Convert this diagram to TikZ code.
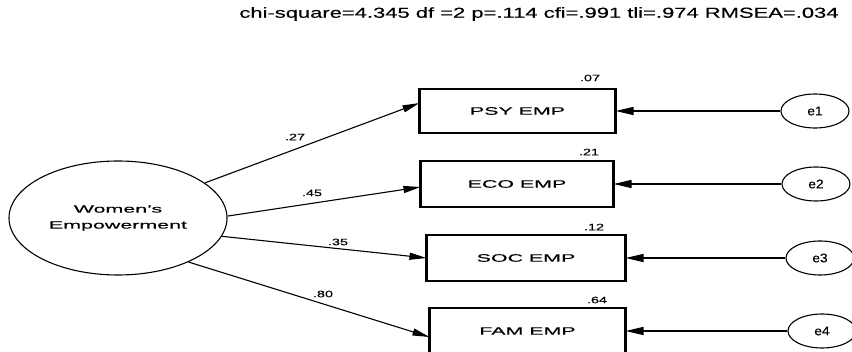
\documentclass[tikz,border=0pt]{standalone}
\usepackage{fontspec}
\usepackage{graphicx}
\setmainfont[FakeBold=0.25]{Liberation Sans}
\usetikzlibrary{arrows.meta,shapes.geometric}
% horizontally widened text
\newcommand\widetxt[2]{\scalebox{#1}[1]{#2}}
\begin{document}
\begin{tikzpicture}[x=1pt,y=-1pt,
  latent/.style={draw, ellipse, line width=1.1pt, minimum width=218pt, minimum height=114pt, inner sep=0pt,
                 font=\fontsize{10.6}{16}\selectfont, align=center},
  obs/.style={draw, rectangle, line width=1.1pt, minimum height=44pt, inner sep=0pt,
              font=\fontsize{10.8}{12}\selectfont},
  err/.style={draw, ellipse, line width=1.1pt, minimum width=68pt, minimum height=34pt, inner sep=0pt,
              font=\fontsize{12.5}{14}\selectfont},
  coef/.style={font=\fontsize{9.3}{11}\selectfont, inner sep=0pt},
  regpath/.style={line width=1.1pt, -{Triangle[length=17pt,width=7pt]}},
  errpath/.style={line width=1.4pt, -{Triangle[length=18pt,width=8pt]}},
  sideedge/.style={line width=2.4pt}
]
\useasboundingbox (0,0) rectangle (852,352);

% fit indices
\node[font=\fontsize{14.5}{16}\selectfont, inner sep=0pt] (fit) at (539,14)
  {\widetxt{1.515}{chi-square=4.345 df =2 p=.114 cfi=.991 tli=.974 RMSEA=.034}};

% latent factor
\node[latent] (W) at (118,218) {\widetxt{2.02}{Women's}\\\widetxt{2.02}{Empowerment}};

% indicators
\node[obs, minimum width=195pt] (psy) at (517.5,111) {\widetxt{1.98}{PSY EMP}};
\node[obs, minimum width=192pt, minimum height=46pt] (eco) at (517,184) {\widetxt{1.98}{ECO EMP}};
\node[obs, minimum width=198pt, minimum height=46pt] (soc) at (526,258) {\widetxt{1.98}{SOC EMP}};
\node[obs, minimum width=195pt, minimum height=46pt] (fam) at (527.5,331) {\widetxt{1.98}{FAM EMP}};

\foreach \n in {psy,eco,soc,fam}{
  \draw[sideedge] (\n.north west) -- (\n.south west);
  \draw[sideedge] (\n.north east) -- (\n.south east);
}

% error terms
\node[err] (e1) at (815,111) {\widetxt{1.1}{e1}};
\node[err] (e2) at (816,184) {\widetxt{1.1}{e2}};
\node[err] (e3) at (820,258) {\widetxt{1.1}{e3}};
\node[err] (e4) at (822,331) {\widetxt{1.1}{e4}};

% loadings
\draw[regpath] (W.22.6) -- ([yshift=8pt]psy.west);
\draw[regpath] (W.1.6) -- ([yshift=-3pt]eco.west);
\draw[regpath] (W.-10.9) -- (soc.west);
\draw[regpath] (W.-32.7) -- ([yshift=-6pt]fam.west);

% residuals
\draw[errpath] (e1) -- (psy.east);
\draw[errpath] (e2) -- (eco.east);
\draw[errpath] (e3) -- (soc.east);
\draw[errpath] (e4) -- (fam.east);

% standardized loadings
\node[coef] (l1) at (295,137) {\widetxt{1.55}{.27}};
\node[coef] (l2) at (312,193) {\widetxt{1.55}{.45}};
\node[coef] (l3) at (338,242) {\widetxt{1.55}{.35}};
\node[coef] (l4) at (323,294) {\widetxt{1.55}{.80}};

% squared multiple correlations
\node[coef] (r1) at (590,78) {\widetxt{1.55}{.07}};
\node[coef] (r2) at (589,152) {\widetxt{1.55}{.21}};
\node[coef] (r3) at (594,227) {\widetxt{1.55}{.12}};
\node[coef] (r4) at (597,300) {\widetxt{1.55}{.64}};
\end{tikzpicture}
\end{document}
